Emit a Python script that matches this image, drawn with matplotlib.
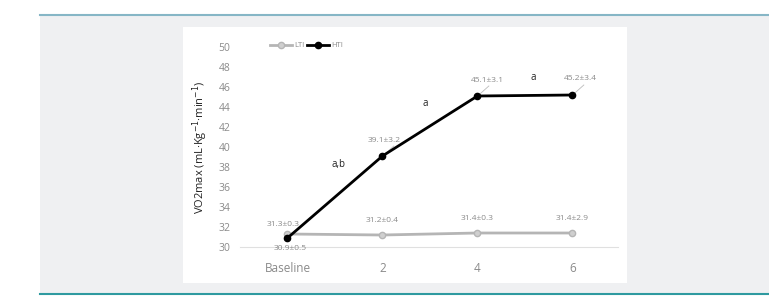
import matplotlib.pyplot as plt
from matplotlib.patches import Rectangle
from matplotlib.lines import Line2D

categories = ["Baseline", "2", "4", "6"]
lti = [31.3, 31.2, 31.4, 31.4]
hti = [30.9, 39.1, 45.1, 45.2]
lti_labels = ["31.3±0.3", "31.2±0.4", "31.4±0.3", "31.4±2.9"]
hti_labels = ["30.9±0.5", "39.1±3.2", "45.1±3.1", "45.2±3.4"]
sig_labels = ["a,b", "a", "a"]
y_ticks = [30, 32, 34, 36, 38, 40, 42, 44, 46, 48, 50]

plt.rcParams['font.family'] = ['Open Sans', 'DejaVu Sans']

W, H = 769, 296
fig = plt.figure(figsize=(W / 100, H / 100), dpi=100)
fig.patch.set_facecolor('white')

def fx(px):
    return px / W

def fy(py):
    return 1 - py / H

# grey panel
fig.add_artist(Rectangle((fx(40), fy(294)), fx(769) - fx(40), fy(15) - fy(294),
                         transform=fig.transFigure, facecolor='#eff0f2', edgecolor='none', zorder=-3))
fig.add_artist(Line2D([fx(40), 1], [fy(15), fy(15)], transform=fig.transFigure,
                      color='#86b6c6', linewidth=1.5, zorder=-2))
fig.add_artist(Line2D([fx(40), 1], [fy(294), fy(294)], transform=fig.transFigure,
                      color='#2e9aa0', linewidth=1.5, zorder=-2))
# white chart card
fig.add_artist(Rectangle((fx(183), fy(283)), fx(627) - fx(183), fy(27) - fy(283),
                         transform=fig.transFigure, facecolor='white', edgecolor='none', zorder=-2))

ax = fig.add_axes([fx(240), fy(247), fx(618) - fx(240), fy(47) - fy(247)])
ax.set_zorder(1)
ax.set_facecolor('none')
x = list(range(len(categories)))
ax.plot(x, lti, color='#b5b5b5', linewidth=2, marker='o', markersize=4.5,
        markerfacecolor='#cfcfcf', markeredgecolor='#b5b5b5', label='LTI', zorder=3)
ax.plot(x, hti, color='black', linewidth=2, marker='o', markersize=4.5,
        markerfacecolor='black', markeredgecolor='black', label='HTI', zorder=4)

ax.set_xlim(-0.5, 3.48)
ax.set_ylim(30, 50)
ax.set_yticks(y_ticks)
ax.set_xticks(x)
ax.set_xticklabels(categories)
for s in ['top', 'right', 'left']:
    ax.spines[s].set_visible(False)
ax.spines['bottom'].set_color('#e0e0e0')
ax.tick_params(axis='both', length=0, colors='#8a8a8a', labelsize=7.5)
ax.tick_params(axis='x', pad=11, labelsize=8.5)
ax.tick_params(axis='y', pad=7)
ax.set_ylabel("VO2max (mL·Kg$^{-1}$·min$^{-1}$)", fontsize=8, color='#222222', labelpad=6)

# LTI labels
lti_off = [(-0.05, 0.9), (0, 1.4), (0, 1.4), (0, 1.4)]
for i, (v, t) in enumerate(zip(lti, lti_labels)):
    ax.text(i + lti_off[i][0], v + lti_off[i][1], t, fontsize=6, color='#8a8a8a',
            ha='center', va='center')
# HTI labels with leader lines
hti_pos = [(0.03, -1.1), (0.02, 1.6), (0.1, 1.5), (0.08, 1.6)]
for i, (v, t) in enumerate(zip(hti, hti_labels)):
    tx, ty = i + hti_pos[i][0], v + hti_pos[i][1]
    ax.text(tx, ty, t, fontsize=6, color='#8a8a8a', ha='center', va='center')
    if i > 0:
        ax.plot([i + 0.02, i + 0.12], [v + 0.15, v + 1.0], color='#bbbbbb', linewidth=0.6, zorder=2)

# significance letters
sig_pos = [(0.54, 38.2), (1.45, 44.4), (2.59, 47.0)]
for (px, py), t in zip(sig_pos, sig_labels):
    ax.text(px, py, t, fontsize=7, color='#222222', ha='center', va='center')

leg = ax.legend(loc='upper left', bbox_to_anchor=(0.06, 1.06), ncol=2, frameon=False,
                fontsize=5.5, handlelength=3, columnspacing=0.3, handletextpad=0.2,
                labelcolor='#8a8a8a')

fig.savefig('out.png', dpi=100)
